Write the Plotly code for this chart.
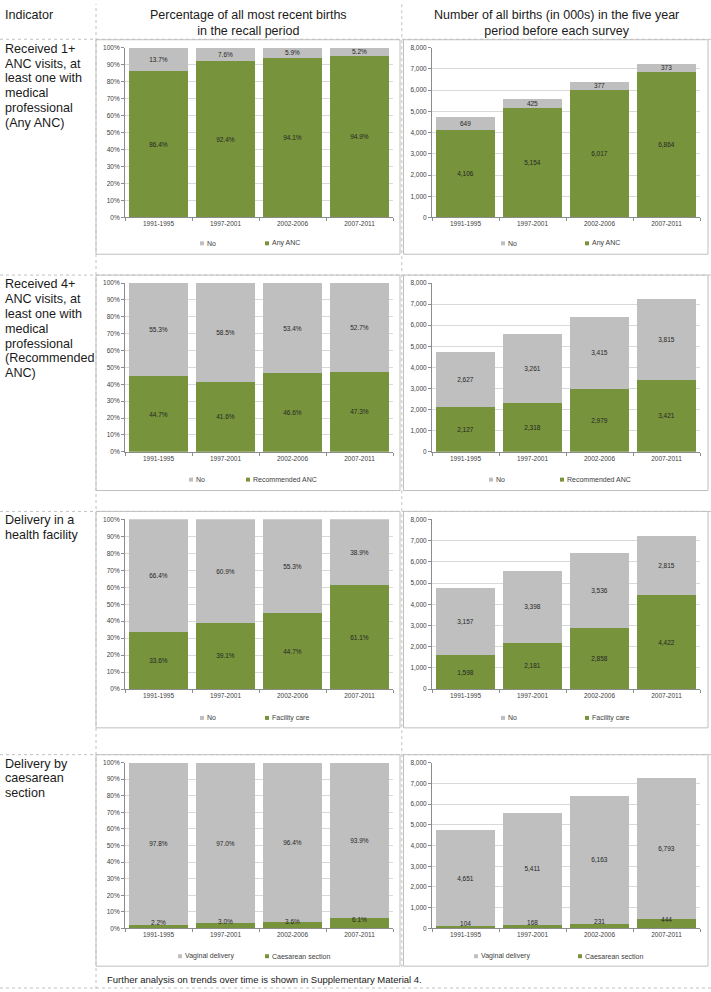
import plotly.graph_objects as go

W, H = 711, 992

periods = ["1991-1995", "1997-2001", "2002-2006", "2007-2011"]

# Row 1: any ANC
anc1_pct_no = [13.7, 7.6, 5.9, 5.2]
anc1_pct_yes = [86.4, 92.4, 94.1, 94.9]
anc1_num_no = [649, 425, 377, 373]
anc1_num_yes = [4106, 5154, 6017, 6864]
# Row 2: recommended ANC
anc4_pct_no = [55.3, 58.5, 53.4, 52.7]
anc4_pct_yes = [44.7, 41.6, 46.6, 47.3]
anc4_num_no = [2627, 3261, 3415, 3815]
anc4_num_yes = [2127, 2318, 2979, 3421]
# Row 3: facility delivery
fac_pct_no = [66.4, 60.9, 55.3, 38.9]
fac_pct_yes = [33.6, 39.1, 44.7, 61.1]
fac_num_no = [3157, 3398, 3536, 2815]
fac_num_yes = [1598, 2181, 2858, 4422]
# Row 4: caesarean section
cs_pct_vag = [97.8, 97.0, 96.4, 93.9]
cs_pct_cs = [2.2, 3.0, 3.6, 6.1]
cs_num_vag = [4651, 5411, 6163, 6793]
cs_num_cs = [104, 168, 231, 444]

rows = [
    dict(lines=["Received 1+", "ANC visits, at", "least one with", "medical", "professional", "(Any ANC)"],
         names=("No", "Any ANC"), pct=(anc1_pct_no, anc1_pct_yes), num=(anc1_num_no, anc1_num_yes)),
    dict(lines=["Received 4+", "ANC visits, at", "least one with", "medical", "professional", "(Recommended", "ANC)"],
         names=("No", "Recommended ANC"), pct=(anc4_pct_no, anc4_pct_yes), num=(anc4_num_no, anc4_num_yes)),
    dict(lines=["Delivery in a", "health facility"],
         names=("No", "Facility care"), pct=(fac_pct_no, fac_pct_yes), num=(fac_num_no, fac_num_yes)),
    dict(lines=["Delivery by", "caesarean", "section"],
         names=("Vaginal delivery", "Caesarean section"), pct=(cs_pct_vag, cs_pct_cs), num=(cs_num_vag, cs_num_cs)),
]

GREEN = "#77933C"
GREY = "#BFBFBF"
TXT = "#262626"
AX = "#8C8C8C"
FONT = "Liberation Sans, Arial, DejaVu Sans, sans-serif"

def xp(px):
    return px / W

def yp(py):
    return 1 - py / H

# per row: frame top, 100% line, 0% line, legend centre, frame bottom (pixels)
row_geo = [
    (36, 44, 215, 241, 252),
    (273, 281, 451, 479, 490),
    (511, 519, 690, 719, 729),
    (756, 764, 931, 959, 969),
]
left_frame = (96, 400)
right_frame = (403.5, 708)
left_plot = (125, 393)
right_plot = (432, 700)
legend_pos = [
    ((202, 267), (503, 587)),
    ((191, 248), (491, 562)),
    ((202, 267), (503, 587)),
    ((180, 267), (476, 580)),
]

fig = go.Figure()
layout = {}
annotations = []
shapes = []

ax_i = 0
for r, row in enumerate(rows):
    T, p100, p0, ly, B = row_geo[r]
    ydom = [yp(p0), yp(p100)]
    for c in range(2):
        ax_i += 1
        xa = "x" if ax_i == 1 else f"x{ax_i}"
        ya = "y" if ax_i == 1 else f"y{ax_i}"
        pdom = left_plot if c == 0 else right_plot
        if c == 0:
            grey_v, green_v = row["pct"]
            gy = [v / 100 for v in grey_v]
            gr = [v / 100 for v in green_v]
            gtext = [f"{v:.1f}%" for v in grey_v]
            rtext = [f"{v:.1f}%" for v in green_v]
        else:
            grey_v, green_v = row["num"]
            gy = list(grey_v)
            gr = list(green_v)
            gtext = [f"{v:,}" for v in grey_v]
            rtext = [f"{v:,}" for v in green_v]
        small = (r == 3)
        fig.add_trace(go.Bar(
            x=periods, y=gr, xaxis=xa, yaxis=ya, marker_color=GREEN, marker_line_width=0,
            text=None if small else rtext, textposition="inside", insidetextanchor="middle",
            textangle=0, constraintext="none",
            insidetextfont=dict(size=6.5, color=TXT, family=FONT),
            showlegend=False, name=row["names"][1]))
        fig.add_trace(go.Bar(
            x=periods, y=gy, xaxis=xa, yaxis=ya, marker_color=GREY, marker_line_width=0,
            text=gtext, textposition="inside", insidetextanchor="middle",
            textangle=0, constraintext="none",
            insidetextfont=dict(size=6.5, color=TXT, family=FONT),
            showlegend=False, name=row["names"][0]))
        if small:
            fig.add_trace(go.Scatter(
                x=periods, y=[v / 2 for v in gr], xaxis=xa, yaxis=ya, mode="text",
                text=rtext, textposition="top center",
                textfont=dict(size=6.5, color=TXT, family=FONT), showlegend=False,
                hoverinfo="skip"))
        layout["xaxis" if ax_i == 1 else f"xaxis{ax_i}"] = dict(
            domain=[xp(pdom[0]), xp(pdom[1])], anchor=ya, type="category",
            showline=True, linecolor=AX, linewidth=1, ticks="outside", ticklen=3,
            tickcolor=AX, tickson="boundaries", showgrid=False,
            tickfont=dict(size=6.5, color="#404040", family=FONT), fixedrange=True)
        if c == 0:
            yad = dict(range=[0, 1], dtick=0.1, tickformat=".0%")
        else:
            yad = dict(range=[0, 8000], dtick=1000, tickformat=",d")
        yad.update(domain=ydom, anchor=xa, showgrid=True, gridcolor="#D9D9D9", gridwidth=1,
                   showline=True, linecolor=AX, linewidth=1, ticks="outside", ticklen=3,
                   tickcolor=AX, zeroline=False,
                   tickfont=dict(size=6.5, color="#404040", family=FONT), fixedrange=True)
        layout["yaxis" if ax_i == 1 else f"yaxis{ax_i}"] = yad

        # panel frame
        fr = left_frame if c == 0 else right_frame
        shapes.append(dict(type="rect", xref="paper", yref="paper",
                           x0=xp(fr[0]), x1=xp(fr[1]), y0=yp(B), y1=yp(T),
                           line=dict(color="#BFBFBF", width=1), fillcolor="rgba(0,0,0,0)", layer="below"))
        # legend
        lx = legend_pos[r][c]
        for k, (name, col) in enumerate(zip(row["names"], (GREY, GREEN))):
            mx = lx[k]
            shapes.append(dict(type="rect", xref="paper", yref="paper",
                               x0=xp(mx - 2), x1=xp(mx + 2), y0=yp(ly + 2), y1=yp(ly - 2),
                               line=dict(width=0), fillcolor=col))
            annotations.append(dict(text=name, x=xp(mx + 3), y=yp(ly), xref="paper", yref="paper",
                                    xanchor="left", yanchor="middle", showarrow=False,
                                    font=dict(size=7, color="#404040", family=FONT)))

    # indicator text
    for k, line in enumerate(row["lines"]):
        annotations.append(dict(text=line, x=xp(3), y=yp(p100 + 1 + 15 * k), xref="paper", yref="paper",
                                xanchor="left", yanchor="middle", showarrow=False,
                                font=dict(size=12.6, color="#1a1a1a", family=FONT)))

# headers
annotations.append(dict(text="Indicator", x=xp(3), y=yp(11), xref="paper", yref="paper",
                        xanchor="left", yanchor="middle", showarrow=False,
                        font=dict(size=12.6, color="#1a1a1a", family=FONT)))
annotations.append(dict(text="Percentage of all most recent births<br>in the recall period",
                        x=xp(248), y=yp(19), xref="paper", yref="paper",
                        xanchor="center", yanchor="middle", showarrow=False,
                        font=dict(size=12.5, color="#1a1a1a", family=FONT)))
annotations.append(dict(text="Number of all births (in 000s) in the five year<br>period before each survey",
                        x=xp(556), y=yp(19), xref="paper", yref="paper",
                        xanchor="center", yanchor="middle", showarrow=False,
                        font=dict(size=12.5, color="#1a1a1a", family=FONT)))
annotations.append(dict(text="Further analysis on trends over time is shown in Supplementary Material 4.",
                        x=xp(105), y=yp(982), xref="paper", yref="paper",
                        xanchor="left", yanchor="middle", showarrow=False,
                        font=dict(size=9.5, color="#1a1a1a", family=FONT)))

# dotted table grid
dot = dict(color="#C0C0C0", width=1, dash="dot")
for yy in [35.5] + [g[0] for g in row_geo[1:]] + [991]:
    shapes.append(dict(type="line", xref="paper", yref="paper", x0=0, x1=1, y0=yp(yy), y1=yp(yy), line=dot, layer="below"))
shapes.append(dict(type="line", xref="paper", yref="paper", x0=xp(96), x1=xp(96), y0=0, y1=1, line=dot, layer="below"))
shapes.append(dict(type="line", xref="paper", yref="paper", x0=xp(401.8), x1=xp(401.8), y0=yp(970), y1=1, line=dot, layer="below"))

fig.update_layout(
    width=W, height=H, margin=dict(l=0, r=0, t=0, b=0),
    paper_bgcolor="white", plot_bgcolor="white",
    barmode="stack", bargap=0.13, showlegend=False,
    uniformtext=dict(minsize=6.5, mode="show"),
    font=dict(family=FONT),
    annotations=annotations, shapes=shapes, **layout)

fig.write_html("out.html", config={"displayModeBar": False, "staticPlot": True},
               post_script="document.body.style.margin='0px';document.body.style.overflow='hidden';")
